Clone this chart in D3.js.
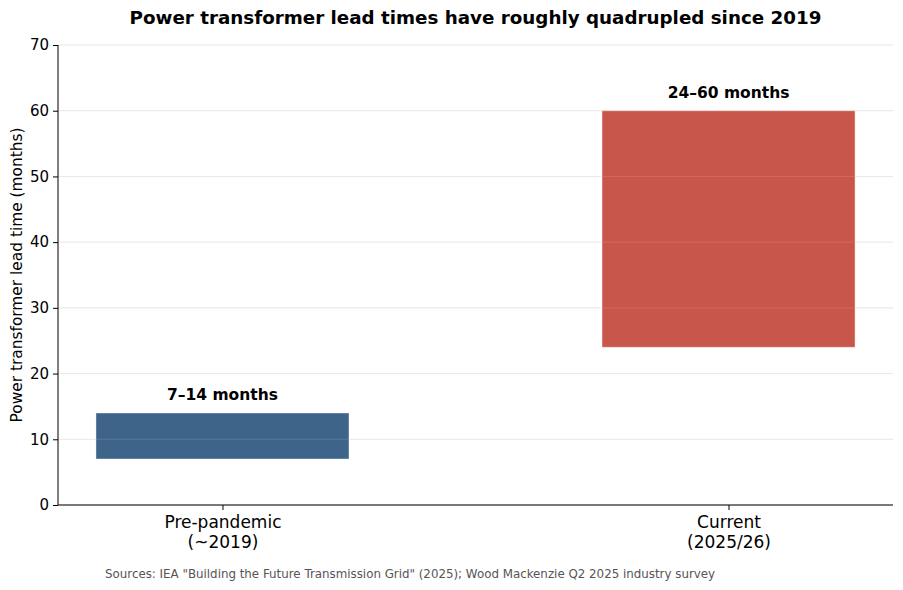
<!DOCTYPE html>
<html><head><meta charset="utf-8">
<script src="https://cdn.jsdelivr.net/npm/d3@7/dist/d3.min.js"></script>
<style>body{margin:0;background:#fff}text{font-family:"DejaVu Sans",sans-serif}</style>
</head><body><svg id="c" width="903" height="590"></svg>
<script>
const categories = [["Pre-pandemic","(~2019)"],["Current","(2025/26)"]];
const lowValues = [7, 24];
const highValues = [14, 60];
const barLabels = ["7–14 months","24–60 months"];
const barColors = ["#3e6589","#c9564a"];
const yTicks = [0,10,20,30,40,50,60,70];

const svg = d3.select("#c");
const L=58,R=893,T=45,B=505;
const x = d3.scaleLinear().domain([-0.325,1.325]).range([L,R]);
const y = d3.scaleLinear().domain([0,70]).range([B,T]);
const bw = 0.5;

// grid
svg.append("g").selectAll("line").data(yTicks).join("line")
  .attr("x1",L).attr("x2",R).attr("y1",d=>y(d)).attr("y2",d=>y(d))
  .attr("stroke","#e6e6e6").attr("stroke-width",1);

// bars
svg.append("g").selectAll("rect").data(categories).join("rect")
  .attr("x",(d,i)=>x(i-bw/2)).attr("width",(d,i)=>x(i+bw/2)-x(i-bw/2))
  .attr("y",(d,i)=>y(highValues[i])).attr("height",(d,i)=>y(lowValues[i])-y(highValues[i]))
  .attr("fill",(d,i)=>barColors[i])
  .attr("stroke","#fff").attr("stroke-opacity",0.4).attr("stroke-width",1);

// grid faintly over bars
svg.append("g").selectAll("line").data(yTicks).join("line")
  .attr("x1",L).attr("x2",R).attr("y1",d=>y(d)).attr("y2",d=>y(d))
  .attr("stroke","#ffffff").attr("stroke-opacity",0.12).attr("stroke-width",1);

// bar labels
svg.append("g").selectAll("text").data(barLabels).join("text")
  .attr("x",(d,i)=>x(i)).attr("y",(d,i)=>y(highValues[i])-13)
  .attr("text-anchor","middle").attr("font-weight","bold").attr("font-size",15.5)
  .text(d=>d);

// y axis
const ya = svg.append("g").attr("transform",`translate(${L},0)`)
  .call(d3.axisLeft(y).tickValues(yTicks).tickSize(5).tickPadding(4));
ya.select(".domain").attr("stroke","#000").attr("d",`M0,${T}V${B}`);
ya.selectAll("text").attr("font-size",15).attr("fill","#000").attr("font-family","DejaVu Sans");
ya.selectAll(".tick line").attr("stroke","#000");

// x axis
const xa = svg.append("g").attr("transform",`translate(0,${B})`)
  .call(d3.axisBottom(x).tickValues([0,1]).tickSize(5).tickFormat(""));
xa.select(".domain").attr("stroke","#000").attr("d",`M${L},0H${R}`);
xa.selectAll(".tick line").attr("stroke","#000");
xa.selectAll(".tick").each(function(d){
  const t=d3.select(this).append("text").attr("fill","#000").attr("font-size",17)
    .attr("text-anchor","middle").attr("font-family","DejaVu Sans");
  categories[d].forEach((s,k)=>t.append("tspan").attr("x",0).attr("y",23+k*20).text(s));
});

// y label
svg.append("text").attr("transform",`translate(22,${(T+B)/2}) rotate(-90)`)
  .attr("text-anchor","middle").attr("font-size",15.4).text("Power transformer lead time (months)");

// title
svg.append("text").attr("x",(L+R)/2).attr("y",24).attr("text-anchor","middle")
  .attr("font-weight","bold").attr("font-size",18.3)
  .text("Power transformer lead times have roughly quadrupled since 2019");

// source
svg.append("text").attr("x",105).attr("y",578).attr("font-size",11.85).attr("fill","#555")
  .text('Sources: IEA "Building the Future Transmission Grid" (2025); Wood Mackenzie Q2 2025 industry survey');
</script></body></html>
